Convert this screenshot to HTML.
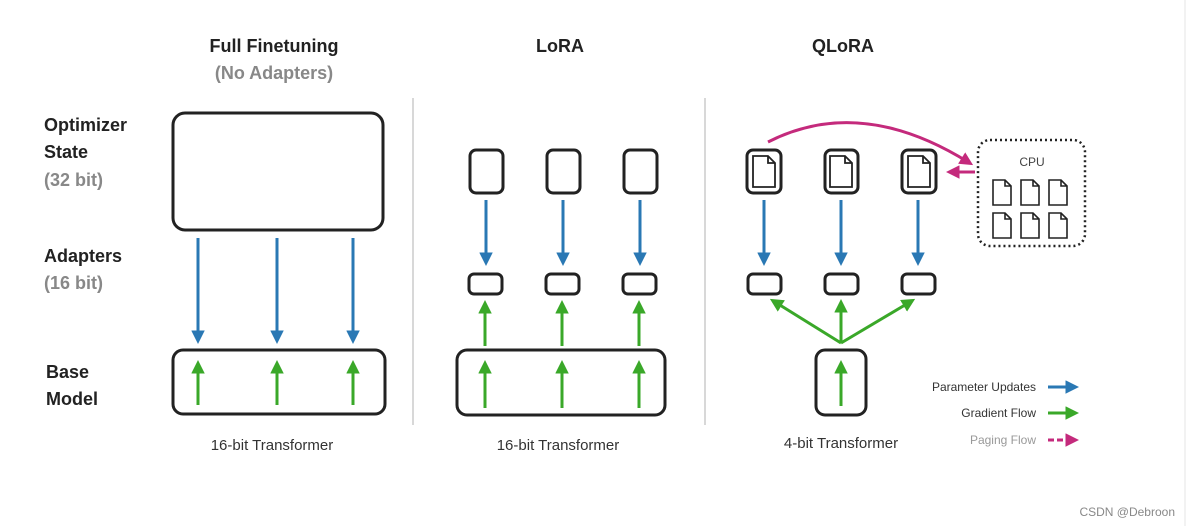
<!DOCTYPE html><html><head><style>body{margin:0;background:#fff}svg{display:block}</style></head><body>
<svg width="1189" height="526" viewBox="0 0 1189 526" xmlns="http://www.w3.org/2000/svg" font-family="Liberation Sans, sans-serif">
<defs>
<marker id="b" markerWidth="4.5" markerHeight="4.5" refX="2.5" refY="2.25" orient="auto" markerUnits="strokeWidth"><path d="M0,0 L4.5,2.25 L0,4.5 z" fill="#2a78b4"/></marker>
<marker id="g" markerWidth="4.5" markerHeight="4.5" refX="2.5" refY="2.25" orient="auto" markerUnits="strokeWidth"><path d="M0,0 L4.5,2.25 L0,4.5 z" fill="#3aa829"/></marker>
<marker id="p" markerWidth="4.5" markerHeight="4.5" refX="2.5" refY="2.25" orient="auto" markerUnits="strokeWidth"><path d="M0,0 L4.5,2.25 L0,4.5 z" fill="#c42a7c"/></marker>
<g id="doc"><path d="M0,0 h12 l6,6 v19 h-18 z M12,0 v6 h6" fill="none" stroke="#222" stroke-width="1.6"/></g>
<g id="bdoc"><path d="M0,0 h15 l7,7 v24 h-22 z M15,0 v7 h7" fill="none" stroke="#222" stroke-width="1.8"/></g>
</defs>
<line x1="1185" y1="0" x2="1185" y2="526" stroke="#e6e6e6"/>
<g font-weight="bold" font-size="18" fill="#222" text-anchor="middle">
<text x="274" y="52">Full Finetuning</text><text x="274" y="79" fill="#888">(No Adapters)</text>
<text x="560" y="52">LoRA</text><text x="843" y="52">QLoRA</text>
</g>
<g font-weight="bold" font-size="18" fill="#222">
<text x="44" y="131">Optimizer</text><text x="44" y="158">State</text><text x="44" y="186" fill="#888">(32 bit)</text>
<text x="44" y="262">Adapters</text><text x="44" y="289" fill="#888">(16 bit)</text>
<text x="46" y="378">Base</text><text x="46" y="405">Model</text>
</g>
<g fill="none" stroke="#222" stroke-width="3">
<rect x="173" y="113" width="210" height="117" rx="12"/>
<rect x="173" y="350" width="212" height="64" rx="10"/>
<rect x="470" y="150" width="33" height="43" rx="6"/><rect x="547" y="150" width="33" height="43" rx="6"/><rect x="624" y="150" width="33" height="43" rx="6"/>
<rect x="469" y="274" width="33" height="20" rx="5"/><rect x="546" y="274" width="33" height="20" rx="5"/><rect x="623" y="274" width="33" height="20" rx="5"/>
<rect x="457" y="350" width="208" height="65" rx="10"/>
<rect x="747" y="150" width="34" height="43" rx="6"/><rect x="825" y="150" width="33" height="43" rx="6"/><rect x="902" y="150" width="34" height="43" rx="6"/>
<rect x="748" y="274" width="33" height="20" rx="5"/><rect x="825" y="274" width="33" height="20" rx="5"/><rect x="902" y="274" width="33" height="20" rx="5"/>
<rect x="816" y="350" width="50" height="65" rx="9"/>
<rect x="978" y="140" width="107" height="106" rx="12" stroke-dasharray="2 3" stroke-width="2.5"/>
</g>
<use href="#bdoc" x="753" y="156"/><use href="#bdoc" x="830" y="156"/><use href="#bdoc" x="908" y="156"/>
<use href="#doc" x="993" y="180"/><use href="#doc" x="1021" y="180"/><use href="#doc" x="1049" y="180"/>
<use href="#doc" x="993" y="213"/><use href="#doc" x="1021" y="213"/><use href="#doc" x="1049" y="213"/>
<text x="1032" y="166" font-size="12" fill="#444" text-anchor="middle">CPU</text>
<g stroke="#ccc" stroke-width="1.5"><line x1="413" y1="98" x2="413" y2="425"/><line x1="705" y1="98" x2="705" y2="425"/></g>
<g stroke="#2a78b4" stroke-width="3" marker-end="url(#b)">
<line x1="198" y1="238" x2="198" y2="338"/><line x1="277" y1="238" x2="277" y2="338"/><line x1="353" y1="238" x2="353" y2="338"/>
<line x1="486" y1="200" x2="486" y2="260"/><line x1="563" y1="200" x2="563" y2="260"/><line x1="640" y1="200" x2="640" y2="260"/>
<line x1="764" y1="200" x2="764" y2="260"/><line x1="841" y1="200" x2="841" y2="260"/><line x1="918" y1="200" x2="918" y2="260"/>
<line x1="1048" y1="387" x2="1073" y2="387"/>
</g>
<g stroke="#3aa829" stroke-width="3" marker-end="url(#g)">
<line x1="198" y1="405" x2="198" y2="366"/><line x1="277" y1="405" x2="277" y2="366"/><line x1="353" y1="405" x2="353" y2="366"/>
<line x1="485" y1="408" x2="485" y2="366"/><line x1="562" y1="408" x2="562" y2="366"/><line x1="639" y1="408" x2="639" y2="366"/>
<line x1="485" y1="346" x2="485" y2="306"/><line x1="562" y1="346" x2="562" y2="306"/><line x1="639" y1="346" x2="639" y2="306"/>
<line x1="841" y1="406" x2="841" y2="366"/>
<line x1="841" y1="343" x2="841" y2="305"/><line x1="841" y1="343" x2="775" y2="302"/><line x1="841" y1="343" x2="910" y2="302"/>
<line x1="1048" y1="413" x2="1073" y2="413"/>
</g>
<g stroke="#c42a7c" stroke-width="3" fill="none" marker-end="url(#p)">
<path d="M768,142 Q860,95 968,162"/>
<line x1="975" y1="172" x2="952" y2="172"/>
<line x1="1048" y1="440" x2="1073" y2="440" stroke-dasharray="6 3"/>
</g>
<g font-size="15" fill="#333" text-anchor="middle">
<text x="272" y="450">16-bit Transformer</text><text x="558" y="450">16-bit Transformer</text><text x="841" y="448">4-bit Transformer</text>
</g>
<g font-size="12" fill="#333" text-anchor="end">
<text x="1036" y="391">Parameter Updates</text><text x="1036" y="417">Gradient Flow</text><text x="1036" y="444" fill="#999">Paging Flow</text>
</g>
<text x="1175" y="516" font-size="12" fill="#888" text-anchor="end">CSDN @Debroon</text>
</svg>
</body></html>
